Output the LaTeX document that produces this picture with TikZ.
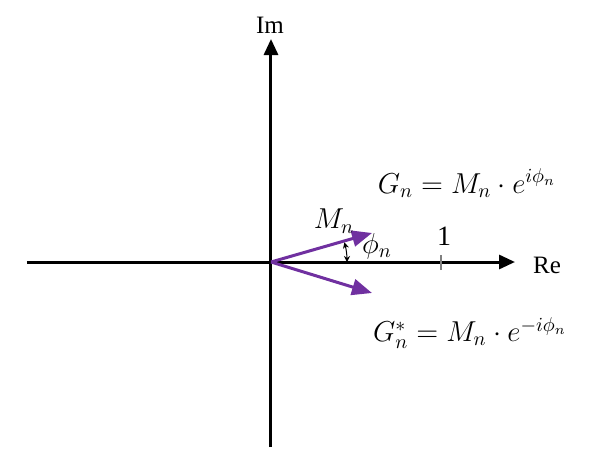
\documentclass[tikz,border=0pt]{standalone}
\usepackage{fontspec}
\setmainfont{Liberation Serif}
\usetikzlibrary{arrows.meta}
\definecolor{vecpurple}{RGB}{112,48,160}
\begin{document}
\begin{tikzpicture}[x=0.5pt,y=0.5pt,
	axisline/.style={line width=1.5pt,-{Triangle[length=8pt,width=7pt]}},
	vecline/.style={line width=1.5pt,draw=vecpurple,-{Triangle[length=10pt,width=8pt]}},
	axislabel/.style={font=\fontsize{12.5}{15}\selectfont},
	mathlabel/.style={font=\fontsize{14}{17}\selectfont}]
				% Complex plane
				\useasboundingbox (-271,-205) rectangle (329,262);
				\coordinate (Origin) at (0,0);
				\coordinate (ReStart) at (-244,0);
				\coordinate (ReEnd) at (244,0);
				\coordinate (ImStart) at (0,-185);
				\coordinate (ImEnd) at (0,223);
				\coordinate (GnTip) at (101,29);
				\coordinate (GcTip) at (101,-31);
				\coordinate (TickLow) at (170,-8);
				\coordinate (TickHigh) at (170,7);
				
				\draw[axisline] (ReStart) to (ReEnd);
				\draw[axisline] (ImStart) to (ImEnd);
				\draw[draw=gray,line width=0.6pt] (TickLow) to (TickHigh);
				\node[axislabel] (ImLabel) at (-1,237) {Im};
				\node[axislabel] (ReLabel) at (276,-3) {Re};
				\node[mathlabel] (OneLabel) at (173,26) {1};
				
				\draw[vecline] (Origin) to (GnTip);
				\draw[vecline] (Origin) to (GcTip);
				\draw[line width=0.5pt,{Stealth[length=3pt,width=3pt]}-{Stealth[length=3pt,width=3pt]}] (76,0) arc[start angle=0,end angle=15,radius=76];
				\node[mathlabel] (MnLabel) at (63,41) {$M_n$};
				\node[mathlabel] (PhiLabel) at (106,16) {$\phi_n$};
				
				\node[mathlabel] (GnEq) at (196,79) {$G_n = M_n \cdot e^{i\phi_n}$};
				\node[mathlabel] (GcEq) at (199,-71) {$G_n^{*} = M_n \cdot e^{-i\phi_n}$};
				
				\end{tikzpicture}
\end{document}
